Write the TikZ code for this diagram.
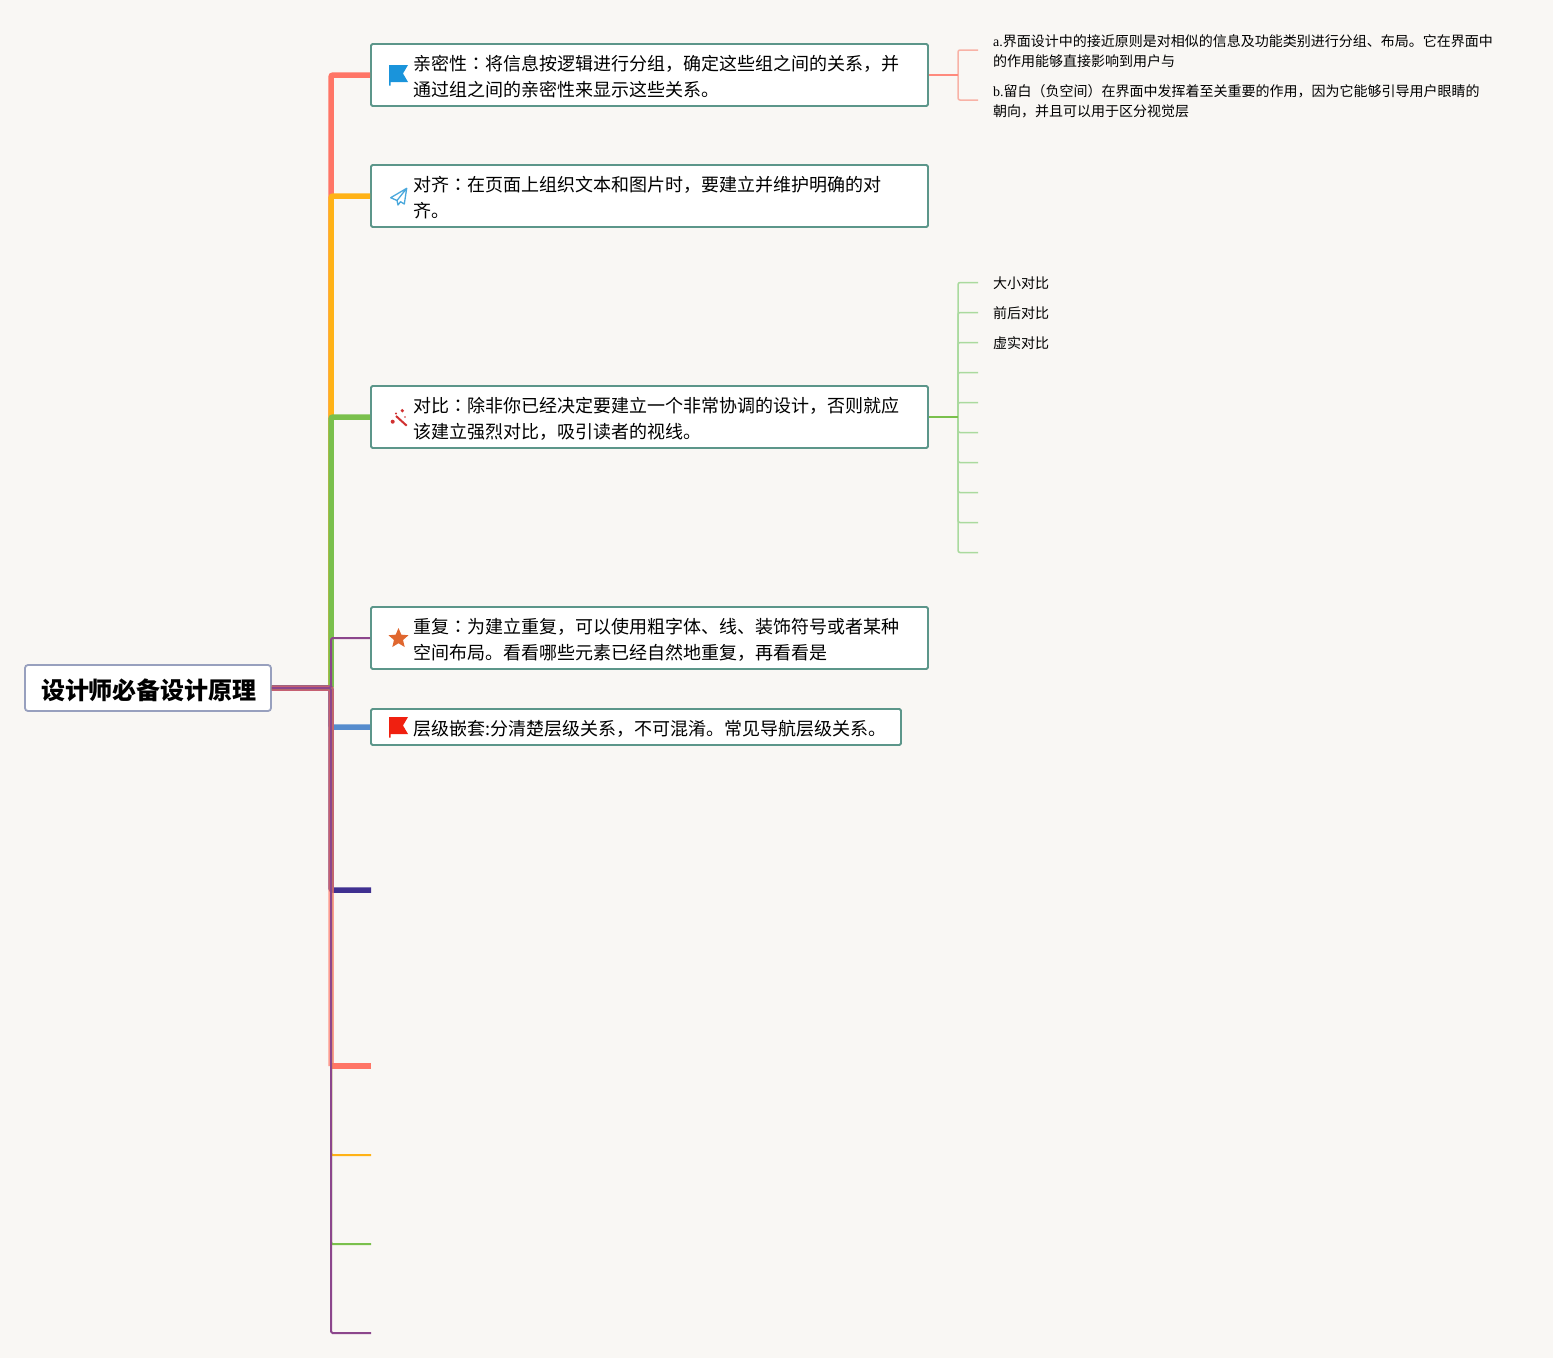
\documentclass[tikz,border=0pt]{standalone}
\usepackage{fontspec}
\setmainfont{Noto Sans CJK SC}
\newfontfamily\cjktc{Noto Sans CJK TC}
\newfontfamily\latinserif{Liberation Serif}
\usepackage{xcolor}
\definecolor{mmpage}{RGB}{249,247,244}
\definecolor{mmteal}{RGB}{92,150,138}
\definecolor{mmroot}{RGB}{152,160,190}
\definecolor{mmcoral}{RGB}{255,117,102}
\definecolor{mmcoralleaf}{RGB}{248,178,166}
\definecolor{mmamber}{RGB}{255,178,22}
\definecolor{mmgreen}{RGB}{122,192,76}
\definecolor{mmgreenleaf}{RGB}{170,218,158}
\definecolor{mmpurple}{RGB}{140,70,140}
\definecolor{mmblue}{RGB}{86,140,205}
\definecolor{mmindigo}{RGB}{64,48,144}
\definecolor{mmflagblue}{RGB}{26,148,219}
\definecolor{mmplane}{RGB}{74,168,220}
\definecolor{mmwand}{RGB}{208,48,48}
\definecolor{mmstar}{RGB}{224,103,47}
\definecolor{mmflagred}{RGB}{240,32,16}
\usetikzlibrary{positioning,shapes.geometric}
\newcommand{\zhcolon}{{\cjktc ：}}
\tikzset{
  rootbox/.style={draw=mmroot, line width=1.8pt, fill=white, rounded corners=3pt, minimum width=246pt, minimum height=46pt, inner sep=0pt},
  roottext/.style={inner sep=0pt, font={\fontsize{24}{28}\selectfont\bfseries}},
  mainbox/.style={draw=mmteal, line width=1.8pt, fill=white, rounded corners=1.5pt, minimum width=557pt, minimum height=62pt, inner sep=0pt},
  boxtext/.style={inner sep=0pt, align=left, font={\fontsize{18}{26}\selectfont}},
  leaftext/.style={inner sep=0pt, align=left, anchor=west, font={\fontsize{14}{20}\selectfont}},
  heavyline/.style={line width=5.5pt, rounded corners=2pt},
  thinline/.style={line width=2pt, rounded corners=1.5pt},
  leafline/.style={line width=1.5pt, rounded corners=2pt}
}

\begin{document}
\begin{tikzpicture}[x=1pt,y=-1pt]
  % Page
  \fill[mmpage] (0,0) rectangle (1553,1358);

  % Free ends and hub
  \coordinate (hub) at (331,688);
  \coordinate (endf) at (371,890);
  \coordinate (endg) at (371,1066);
  \coordinate (kneeg) at (331,1066);
  \coordinate (endh) at (371,1155);
  \coordinate (endi) at (371,1244);
  \coordinate (endj) at (371,1333);

  % Root and boxes
  \node[rootbox] (root) at (148,688) {};
  \node[roottext] (rootlabel) at (149,690) {设计师必备设计原理};
  \node[mainbox] (near) at (649.5,75) {};
  \node[mainbox] (align) at (649.5,196) {};
  \node[mainbox] (contrast) at (649.5,417) {};
  \node[mainbox] (repeat) at (649.5,638) {};
  \node[mainbox, minimum width=530pt, minimum height=36pt] (nest) at (636,727) {};

  % Branches
  \draw[heavyline, mmcoral] (root.east) -- (hub) |- (near.west);
  \draw[heavyline, mmamber] (root.east) -- (hub) |- (align.west);
  \draw[heavyline, mmgreen] (root.east) -- (hub) |- (contrast.west);
  \draw[heavyline, mmblue] (root.east) -- (hub) |- (nest.west);
  \draw[heavyline, mmindigo] (root.east) -- (hub) |- (endf);
  \draw[heavyline, mmcoral, opacity=.7] (root.east) -- (hub) -- (kneeg);
  \draw[line width=5.5pt, mmcoral] (kneeg) -- (endg);
  \draw[thinline, mmamber] (root.east) -- (hub) |- (endh);
  \draw[thinline, mmgreen] (root.east) -- (hub) |- (endi);
  \draw[thinline, mmpurple] (root.east) -- (hub) |- (repeat.west);
  \draw[thinline, mmpurple] (root.east) -- (hub) |- (endj);

  % Box texts
  \node[boxtext, right=43pt of near.west, yshift=-2pt] (neartext) {亲密性\zhcolon 将信息按逻辑进行分组，确定这些组之间的关系，并\\通过组之间的亲密性来显示这些关系。};
  \node[boxtext, right=43pt of align.west, yshift=-2pt] (aligntext) {对齐\zhcolon 在页面上组织文本和图片时，要建立并维护明确的对\\齐。};
  \node[boxtext, right=43pt of contrast.west, yshift=-2pt] (contrasttext) {对比\zhcolon 除非你已经决定要建立一个非常协调的设计，否则就应\\该建立强烈对比，吸引读者的视线。};
  \node[boxtext, right=43pt of repeat.west, yshift=-2pt] (repeattext) {重复\zhcolon 为建立重复，可以使用粗字体、线、装饰符号或者某种\\空间布局。看看哪些元素已经自然地重复，再看看是};
  \node[boxtext, right=43pt of nest.west, yshift=-2pt] (nesttext) {层级嵌套:分清楚层级关系，不可混淆。常见导航层级关系。};

  % Icons
  \fill[mmflagblue] (389,65) -- (408,65) -- (403,73.5) -- (408,82) -- (390.5,82) -- (390.5,85.5) -- (389,85.5) -- cycle;
  \draw[mmplane, line width=1.3pt, line join=round] (406.7,188.3) -- (390.7,197.7) -- (397,200.5) -- (398,205) -- (400.5,201.7) -- (404.3,204) -- cycle (397,200.5) -- (406.7,188.3);
  \draw[mmwand, line width=2pt] (396,416) -- (406.7,425.7);
  \fill[mmwand] (392.7,421.7) circle (2pt) (402.3,410.7) circle (1.8pt) (396,413.5) circle (1.2pt) (405,417) circle (.8pt);
  \node[star, star points=5, star point ratio=2.2, fill=mmstar, minimum size=21pt, inner sep=0pt] (staricon) at (398.5,638.5) {};
  \fill[mmflagred] (389,717) -- (408,717) -- (403,725.5) -- (408,734) -- (390.5,734) -- (390.5,737.5) -- (389,737.5) -- cycle;

  % Leaves of the first box
  \coordinate (nearfork) at (958,75);
  \coordinate (neara) at (978,50);
  \coordinate (nearb) at (978,100);
  \draw[leafline, mmcoralleaf] (nearfork) |- (neara);
  \draw[leafline, mmcoralleaf] (nearfork) |- (nearb);
  \draw[thinline, mmcoral!85] (near.east) -- (nearfork);
  \node[leaftext] (leafa) at (993,51.5) {{\latinserif a.}界面设计中的接近原则是对相似的信息及功能类别进行分组、布局。它在界面中\\的作用能够直接影响到用户与};
  \node[leaftext] (leafb) at (993,101.5) {{\latinserif b.}留白（负空间）在界面中发挥着至关重要的作用，因为它能够引导用户眼睛的\\朝向，并且可以用于区分视觉层};

  % Leaves of the third box
  \coordinate (contrastfork) at (958,417);
  \foreach \y in {282.5,312.5,...,552.5} {
    \coordinate (cleaf) at (978,\y);
    \draw[leafline, mmgreenleaf] (contrastfork) |- (cleaf);
  }
  \draw[thinline, mmgreen] (contrast.east) -- (contrastfork);
  \node[leaftext] (sizetext) at (993,283.2) {大小对比};
  \node[leaftext] (ordertext) at (993,313.2) {前后对比};
  \node[leaftext] (solidtext) at (993,343.2) {虚实对比};
\end{tikzpicture}
\end{document}
